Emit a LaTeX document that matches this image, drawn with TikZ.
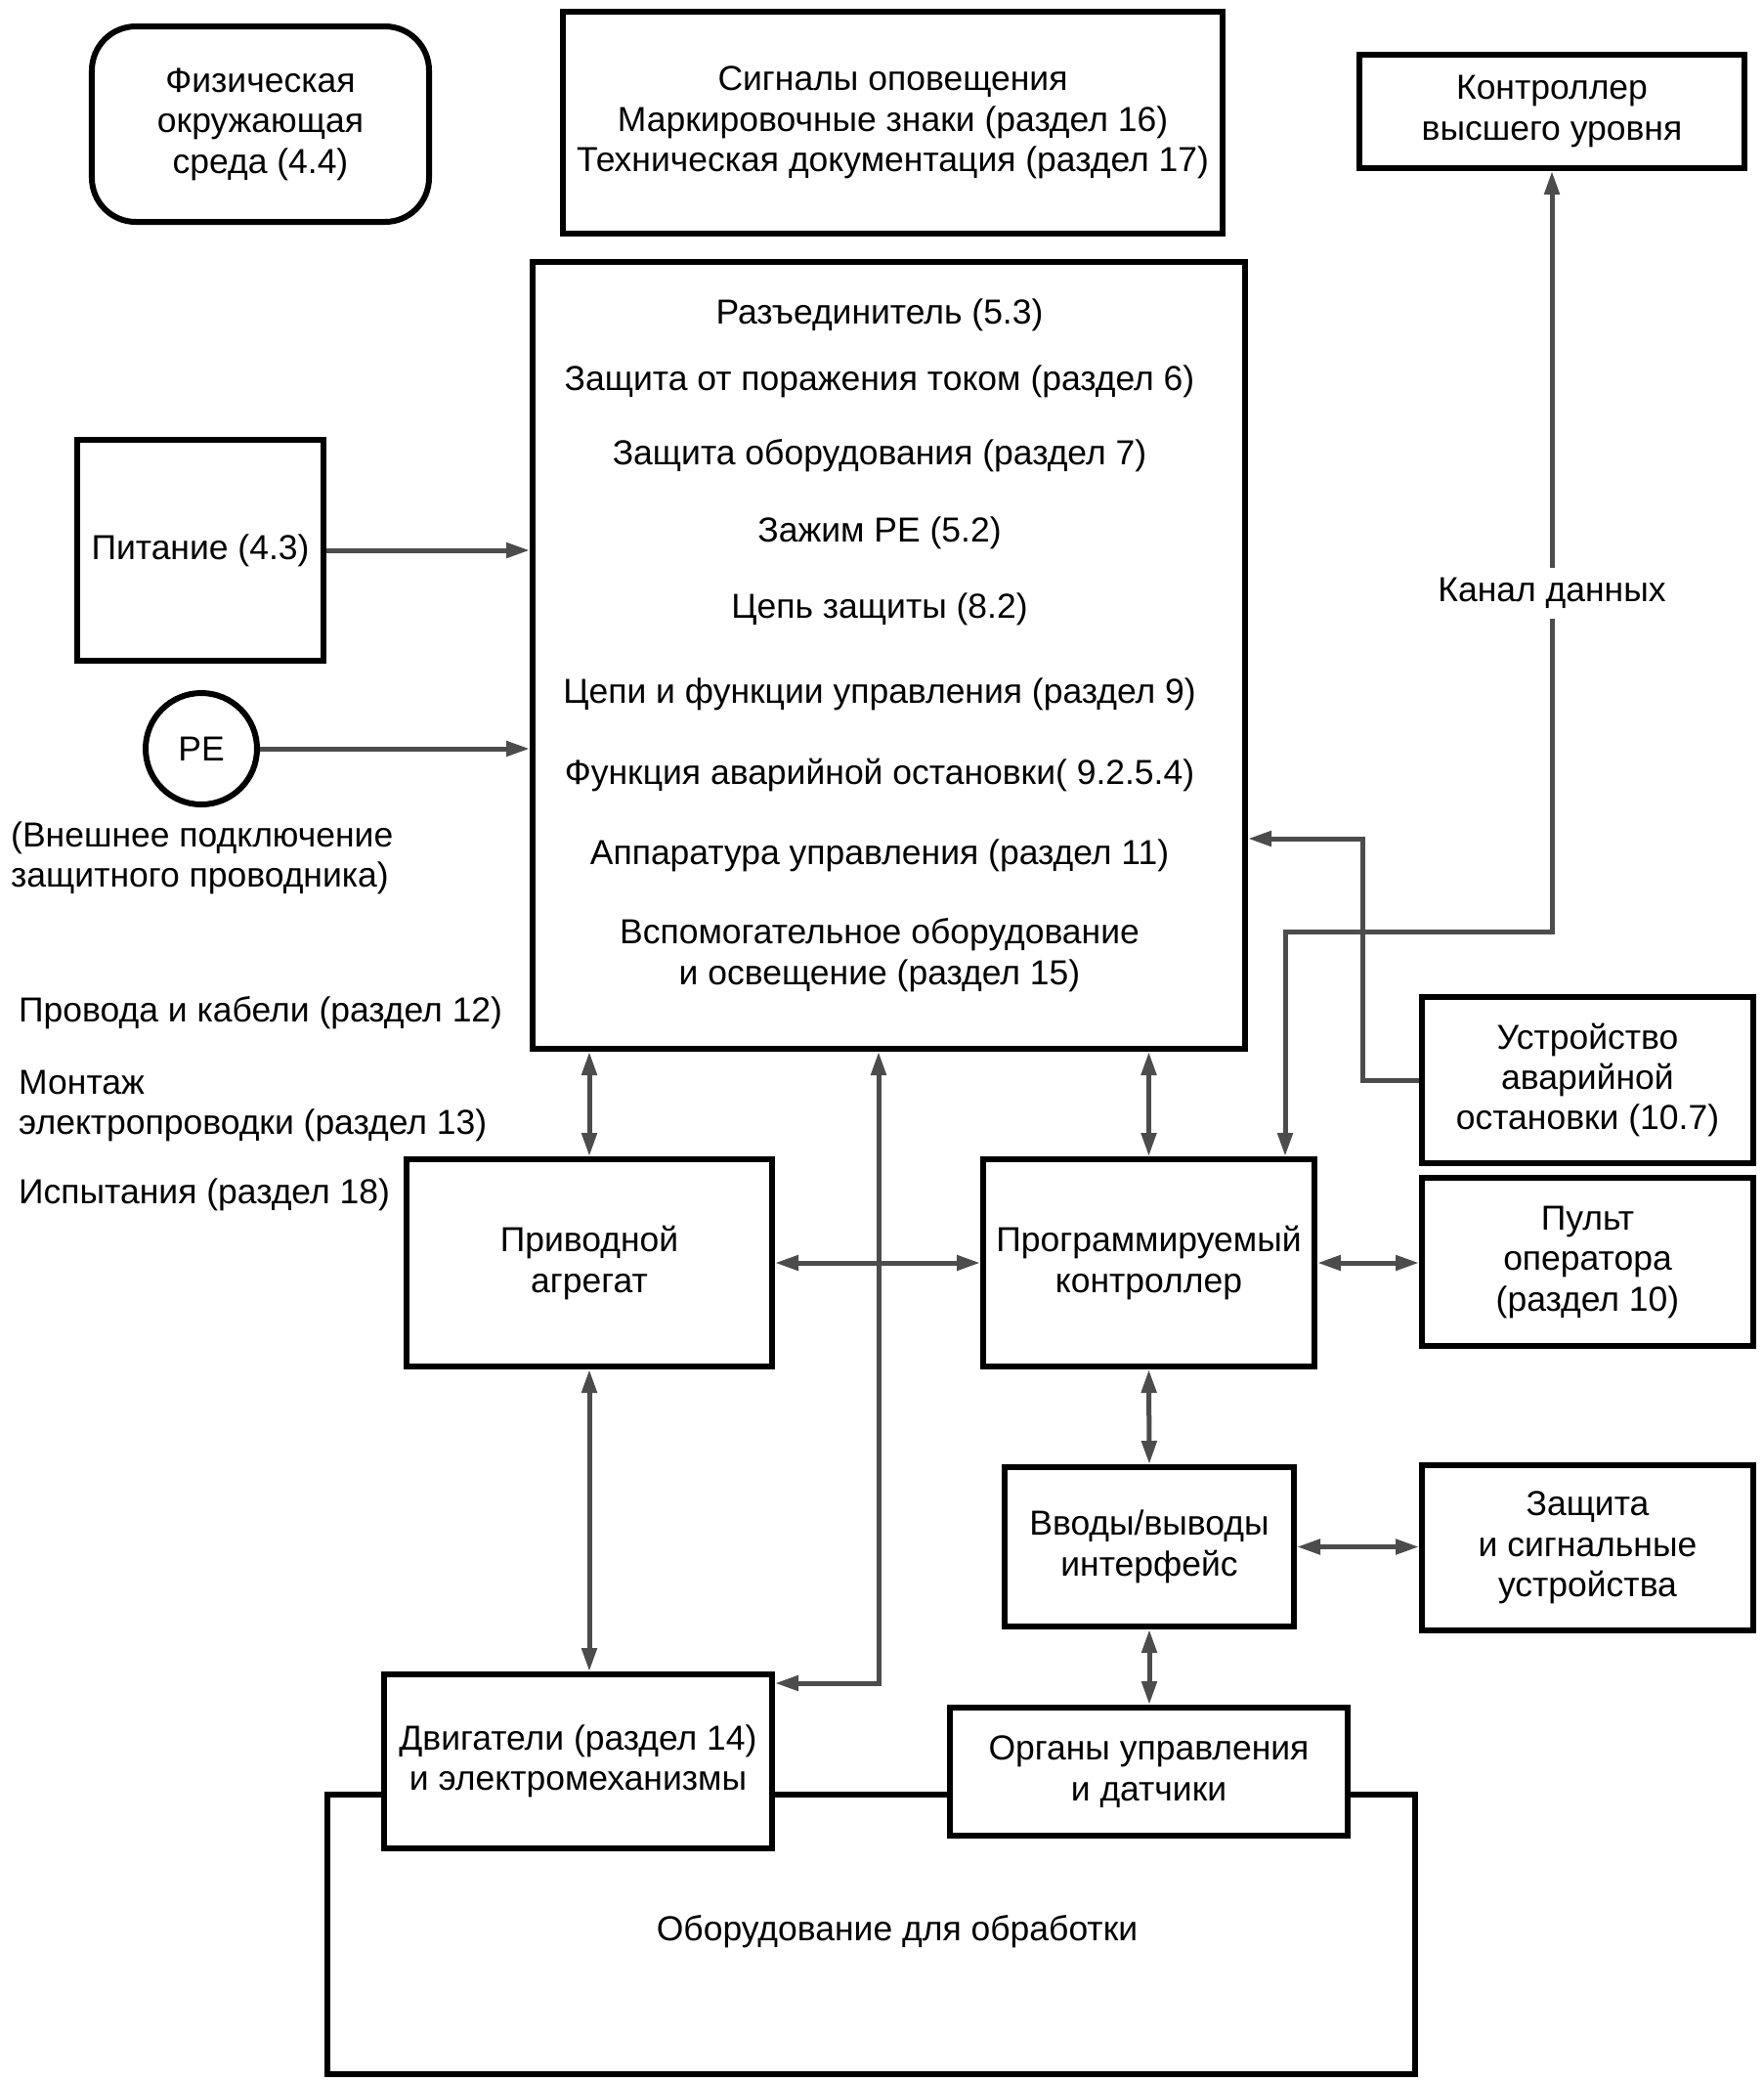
\documentclass[tikz,border=0pt]{standalone}
\usepackage{fontspec}
\setmainfont{Liberation Sans}
\usetikzlibrary{arrows.meta}

\tikzset{
	box/.style={draw=black,line width=0.6mm,fill=white,align=center,inner sep=0pt},
	conn/.style={draw=black!70,line width=0.5mm,arrows={-},>={Triangle[length=2.4mm,width=1.5mm]}},
	plain/.style={align=center,inner sep=1pt}
}

\begin{document}
\begin{tikzpicture}[x=1cm,y=-1cm,font=\fontsize{10.1}{11.8}\selectfont]
			\useasboundingbox (0,0) rectangle (18.05,21.29);

			\node[box,rounded corners=4.5mm,minimum width=3.45cm,minimum height=2.00cm] (env) at (2.665,1.27) {Физическая\\окружающая\\среда (4.4)};
			\node[box,minimum width=6.75cm,minimum height=2.27cm] (signals) at (9.135,1.255) {Сигналы оповещения\\Маркировочные знаки (раздел 16)\\Техническая документация (раздел 17)};
			\node[box,minimum width=3.94cm,minimum height=1.16cm] (upper) at (15.88,1.14) {Контроллер\\высшего уровня};

			\node[box,minimum width=7.29cm,minimum height=8.05cm] (main) at (9.095,6.705) {};
			\foreach \y/\t [count=\i] in {
					3.22/{Разъединитель (5.3)},
					3.90/{Защита от поражения током (раздел 6)},
					4.66/{Защита оборудования (раздел 7)},
					5.45/{Зажим PE (5.2)},
					6.23/{Цепь защиты (8.2)},
					7.10/{Цепи и функции управления (раздел 9)},
					7.93/{Функция аварийной остановки( 9.2.5.4)},
					8.75/{Аппаратура управления (раздел 11)},
					9.77/{Вспомогательное оборудование\\и освещение (раздел 15)}}
				\node[plain] (line\i) at (9.0,\y) {\t};

			\node[box,minimum width=2.52cm,minimum height=2.26cm] (power) at (2.05,5.63) {Питание (4.3)};
			\node[box,circle,minimum size=1.14cm] (pe) at (2.06,7.66) {PE};
			\node[plain,align=left,anchor=west] (pelbl) at (0.07,8.78) {(Внешнее подключение\\защитного проводника)};
			\node[plain,anchor=west] (wires) at (0.15,10.36) {Провода и кабели (раздел 12)};
			\node[plain,align=left,anchor=west] (install) at (0.15,11.315) {Монтаж\\электропроводки (раздел 13)};
			\node[plain,anchor=west] (tests) at (0.15,12.22) {Испытания (раздел 18)};

			\node[box,minimum width=3.39cm,minimum height=1.70cm] (estop) at (16.245,11.05) {Устройство\\аварийной\\остановки (10.7)};
			\node[box,minimum width=3.39cm,minimum height=1.72cm] (panel) at (16.245,12.91) {Пульт\\оператора\\(раздел 10)};
			\node[box,minimum width=3.74cm,minimum height=2.12cm] (drive) at (6.03,12.92) {Приводной\\агрегат};
			\node[box,minimum width=3.39cm,minimum height=2.12cm] (plc) at (11.755,12.92) {Программируемый\\контроллер};
			\node[box,minimum width=2.96cm,minimum height=1.63cm] (io) at (11.76,15.825) {Вводы/выводы\\интерфейс};
			\node[box,minimum width=3.39cm,minimum height=1.69cm] (prot) at (16.245,15.835) {Защита\\и сигнальные\\устройства};

			\node[box,minimum width=11.13cm,minimum height=2.86cm] (equip) at (8.915,19.79) {};
			\node[plain] (equiplbl) at (9.18,19.76) {Оборудование для обработки};
			\node[box,minimum width=3.97cm,minimum height=1.78cm] (motors) at (5.915,18.02) {Двигатели (раздел 14)\\и электромеханизмы};
			\node[box,minimum width=4.07cm,minimum height=1.31cm] (sensors) at (11.755,18.125) {Органы управления\\и датчики};

			\coordinate (mbend) at (8.99,17.22);
			\coordinate (dbend) at (13.15,9.53);
			\coordinate (ebend) at (13.94,8.58);

			\draw[conn,->] (power.east) -- (main.west |- power.east);
			\draw[conn,->] (pe.east) -- (main.west |- pe.east);
			\draw[conn,<->] (main.south -| drive.north) -- (drive.north);
			\draw[conn,<->] (main.south -| plc.north) -- (plc.north);
			\draw[conn,<->] (main.south -| mbend) -- (mbend) -- (motors.east |- mbend);
			\draw[conn,<->] (upper.south) -- (upper.south |- dbend) -- (dbend) -- (dbend |- plc.north);
			\draw[conn,->] (estop.west) -- (ebend |- estop.west) -- (ebend) -- (main.east |- ebend);
			\draw[conn,<->] (drive.east) -- (plc.west);
			\draw[conn,<->] (plc.east) -- (panel.west |- plc.east);
			\draw[conn,<->] (plc.south) -- (io.north);
			\draw[conn,<->] (io.east) -- (prot.west |- io.east);
			\draw[conn,<->] (io.south) -- (io.south |- sensors.north);
			\draw[conn,<->] (drive.south) -- (drive.south |- motors.north);

			\node[plain,fill=white,inner sep=3pt] (datalbl) at (15.88,6.07) {Канал данных};
		\end{tikzpicture}
\end{document}
